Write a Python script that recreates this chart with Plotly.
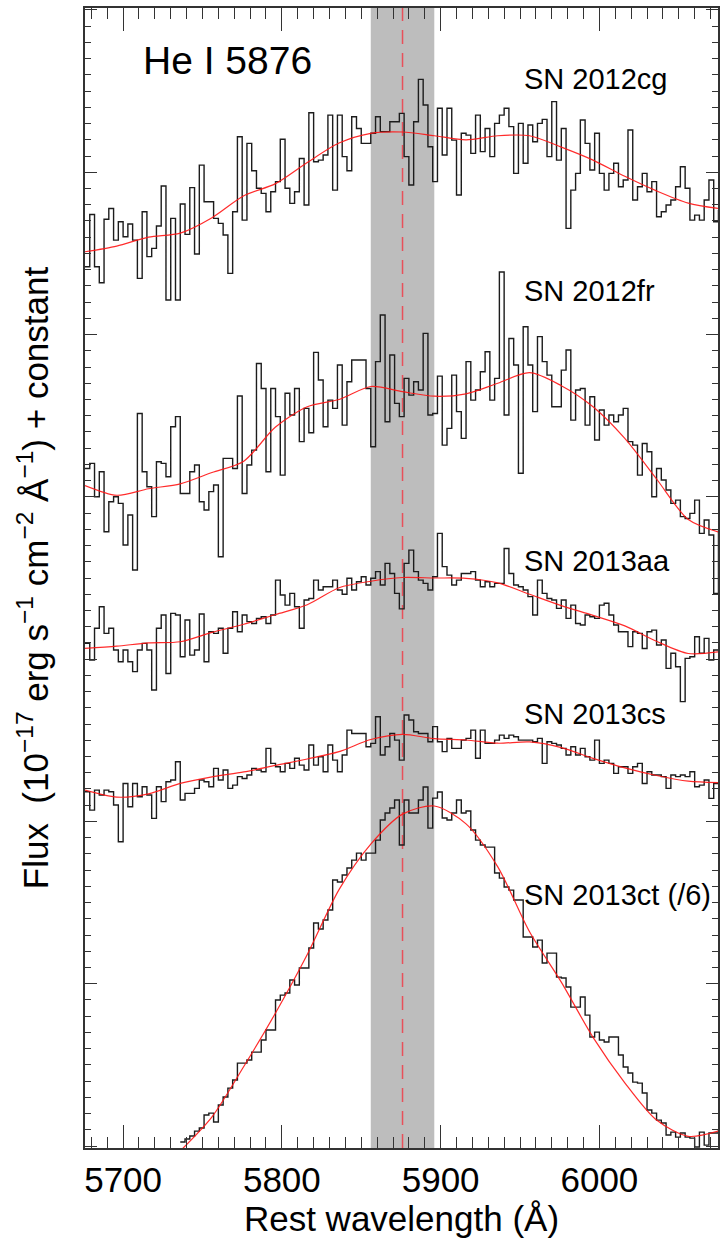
import numpy as np
import plotly.graph_objects as go

# ---------------- data ----------------
# noisy spectra: 3 A bins starting at 5676 A
BIN_START = 5676
BIN_STEP = 3
# smoothed (red) curves sampled every 20 A starting at 5676 A
SMOOTH_START = 5676
SMOOTH_STEP = 20

sn2012cg_flux = [
    5.418, 5.740, 5.418, 5.319, 5.710, 5.777, 5.582, 5.695, 5.603, 5.681,
    5.582, 5.346, 5.757, 5.480, 5.531, 5.669, 5.915, 5.213, 5.716, 5.213,
    5.804, 5.617, 5.905, 5.496, 6.044, 5.818, 5.818, 5.716, 5.685, 5.613,
    5.377, 5.757, 6.219, 5.705, 6.178, 6.009, 5.901, 5.870, 5.757, 5.880,
    5.942, 6.203, 5.901, 5.808, 5.880, 6.085, 5.798, 6.367, 6.065, 6.075,
    6.106, 6.352, 5.890, 6.352, 6.096, 6.009, 6.342, 6.270,
    6.178, 6.178, 6.240, 6.342, 6.250, 6.250, 6.311, 6.311, 6.363, 6.096,
    5.921, 6.311, 6.572, 6.414, 6.157, 5.942, 6.394, 6.106, 6.394, 6.198,
    5.860, 6.240, 6.229, 6.116, 6.352, 6.127, 6.270, 6.096, 6.301, 6.352,
    6.394, 6.281, 5.993, 6.301, 6.055, 6.291, 6.188, 6.301, 6.326, 6.096,
    6.435, 6.075, 6.270, 5.654, 5.890, 5.993, 6.322, 6.178, 6.014, 6.240,
    5.993, 5.890, 5.993, 6.055, 5.911, 5.952, 6.260, 5.829, 5.911, 5.993,
    5.880, 5.942, 5.726, 5.757, 5.798, 5.829, 5.911, 6.034, 5.901, 5.705,
    5.736, 5.705, 5.829, 5.952, 5.695, 5.767,
]
sn2012fr_flux = [
    4.175, 4.206, 4.001, 4.155, 3.785, 3.970, 4.001, 3.960, 3.703, 3.888,
    3.549, 4.514, 4.155, 4.062, 3.878, 4.216, 4.206, 4.124, 4.432, 4.494,
    4.021, 4.021, 4.155, 4.196, 3.970, 3.919, 4.032, 4.073, 3.631, 4.237,
    4.237, 4.175, 4.621, 4.021, 4.196, 4.288, 4.822, 4.668, 4.155, 4.668,
    4.494, 4.134, 4.638, 4.504, 4.668, 4.340, 4.545, 4.395, 4.890, 4.720,
    4.432, 4.596, 4.545, 4.812, 4.442, 4.709, 4.843, 4.843,
    4.843, 4.668, 4.309, 4.833, 5.120, 4.463, 4.874, 4.576, 4.494, 4.730,
    4.627, 4.709, 4.658, 5.007, 4.504, 4.514, 4.744, 4.319, 4.422, 4.750,
    4.525, 4.360, 4.833, 4.596, 4.658, 4.771, 4.894, 4.596, 4.730, 5.385,
    4.504, 4.976, 4.812, 4.145, 5.048, 4.812, 4.525, 4.987, 4.833, 4.750,
    4.555, 4.555, 4.781, 4.905, 4.473, 4.658, 4.668, 4.442, 4.617, 4.350,
    4.535, 4.442, 4.504, 4.463, 4.504, 4.545, 4.340, 4.319, 4.134, 4.329,
    4.278, 4.001, 4.175, 4.104, 4.042, 3.960, 3.980, 3.878, 3.867, 3.898,
    3.980, 3.775, 3.857, 3.765, 3.405, 3.795,
]
sn2013aa_flux = [
    3.097, 2.994, 3.190, 3.323, 3.159, 3.190, 3.056, 2.984, 3.056, 2.984,
    2.923, 3.056, 3.097, 3.056, 2.810, 3.190, 3.272, 2.912, 3.282, 3.272,
    3.015, 3.241, 3.025, 3.056, 3.278, 2.984, 3.169, 3.159, 3.190, 3.036,
    3.190, 3.292, 3.169, 3.272, 3.231, 3.220, 3.251, 3.261, 3.220, 3.272,
    3.487, 3.395, 3.333, 3.405, 3.323, 3.190, 3.364, 3.374, 3.487, 3.426,
    3.446, 3.446, 3.487, 3.426, 3.400, 3.498, 3.426, 3.477,
    3.508, 3.457, 3.498, 3.539, 3.457, 3.590, 3.528, 3.405, 3.310, 3.590,
    3.672, 3.539, 3.487, 3.467, 3.426, 3.508, 3.775, 3.570, 3.518, 3.457,
    3.487, 3.528, 3.528, 3.539, 3.487, 3.446, 3.477, 3.446, 3.467, 3.467,
    3.682, 3.528, 3.457, 3.446, 3.426, 3.385, 3.272, 3.487, 3.405, 3.374,
    3.364, 3.313, 3.364, 3.251, 3.333, 3.220, 3.210, 3.272, 3.261, 3.251,
    3.333, 3.344, 3.272, 3.210, 3.169, 3.169, 3.077, 3.169, 3.159, 3.066,
    3.169, 3.179, 3.087, 3.118, 2.943, 3.036, 2.953, 2.738, 3.005, 3.015,
    3.138, 3.036, 3.128, 2.994, 3.056, 3.056,
]
sn2013cs_flux = [
    2.183, 2.070, 2.193, 2.163, 2.193, 2.183, 2.101, 1.875, 2.234, 2.091,
    2.234, 2.152, 2.214, 2.163, 2.019, 2.214, 2.122, 2.245, 2.255, 2.368,
    2.132, 2.173, 2.173, 2.204, 2.255, 2.245, 2.214, 2.327, 2.255, 2.317,
    2.204, 2.224, 2.276, 2.265, 2.286, 2.327, 2.317, 2.306, 2.450, 2.358,
    2.337, 2.306, 2.358, 2.327, 2.389, 2.347, 2.317, 2.471, 2.347, 2.399,
    2.306, 2.471, 2.378, 2.306, 2.409, 2.563, 2.542, 2.542,
    2.542, 2.460, 2.481, 2.645, 2.409, 2.460, 2.542, 2.501, 2.378, 2.656,
    2.625, 2.553, 2.542, 2.542, 2.491, 2.584, 2.491, 2.430, 2.512, 2.450,
    2.450, 2.501, 2.512, 2.563, 2.389, 2.563, 2.481, 2.481, 2.501, 2.532,
    2.512, 2.532, 2.522, 2.501, 2.501, 2.501, 2.491, 2.512, 2.358, 2.491,
    2.481, 2.471, 2.450, 2.409, 2.460, 2.409, 2.450, 2.399, 2.378, 2.501,
    2.358, 2.378, 2.358, 2.296, 2.337, 2.337, 2.296, 2.337, 2.358, 2.234,
    2.306, 2.286, 2.286, 2.276, 2.204, 2.286, 2.276, 2.286, 2.276, 2.306,
    2.214, 2.224, 2.255, 2.142, 2.234, 2.234,
]
# SN 2013ct (divided by 6): visible from 5736 A on
sn2013ct_start = 5736
sn2013ct_flux = [
    0.025, 0.043, 0.062, 0.092, 0.111, 0.191, 0.203, 0.148, 0.253, 0.302,
    0.357, 0.407, 0.511, 0.511, 0.530, 0.579, 0.579, 0.653, 0.715, 0.715,
    0.900, 0.930, 0.943, 1.023, 0.992, 1.097, 1.097, 1.220, 1.374, 1.337,
    1.393, 1.454, 1.639, 1.627, 1.670, 1.713, 1.762, 1.805, 1.762, 1.805,
    1.805, 1.885, 2.009, 2.052, 2.083, 2.132, 1.855, 2.132, 2.052, 2.052,
    2.132, 2.212, 1.959, 2.144, 2.181, 2.021, 2.009, 2.052, 2.132, 2.052,
    2.064, 1.947, 1.885, 1.855, 1.842, 1.842, 1.682, 1.651, 1.596, 1.577,
    1.516, 1.516, 1.288, 1.288, 1.226, 1.269, 1.128, 1.189, 1.189, 1.041,
    1.035, 0.980, 0.856, 0.856, 0.918, 0.807, 0.672, 0.702, 0.653, 0.641,
    0.672, 0.672, 0.561, 0.487, 0.450, 0.394, 0.388, 0.327, 0.222, 0.203,
    0.160, 0.142, 0.068, 0.086, 0.055, 0.080, 0.055, 0.049, -0.006, 0.086,
    0.006, 0.080, 0.080, 0.099,
]

sn2012cg_smooth = [5.51, 5.545, 5.60, 5.625, 5.72, 5.855, 5.93, 6.06, 6.18, 6.24,
                   6.248, 6.225, 6.20, 6.225, 6.225, 6.155, 6.075, 5.975, 5.885, 5.81, 5.775]
sn2012fr_smooth = [4.07, 4.01, 4.05, 4.08, 4.15, 4.22, 4.43, 4.555, 4.60, 4.68,
                   4.648, 4.62, 4.635, 4.70, 4.765, 4.685, 4.555, 4.36, 4.11, 3.86, 3.78]
sn2013aa_smooth = [3.066, 3.08, 3.10, 3.107, 3.165, 3.215, 3.275, 3.335, 3.44, 3.48,
                   3.503, 3.50, 3.498, 3.47, 3.40, 3.33, 3.27, 3.205, 3.11, 3.035, 3.046]
sn2013cs_smooth = [2.193, 2.15, 2.17, 2.235, 2.275, 2.305, 2.345, 2.385, 2.43, 2.505,
                   2.537, 2.51, 2.502, 2.482, 2.49, 2.455, 2.389, 2.33, 2.283, 2.248, 2.239]
sn2013ct_smooth_start = 5736
sn2013ct_smooth = [-0.03, 0.18, 0.49, 0.82, 1.18, 1.58, 1.86, 2.045, 2.095, 1.985,
                   1.72, 1.32, 1.01, 0.67, 0.39, 0.16, 0.06, 0.095]

labels = ["SN 2012cg", "SN 2012fr", "SN 2013aa", "SN 2013cs", "SN 2013ct (/6)"]
label_y = [6.574, 5.268, 3.604, 2.662, 1.547]
label_x = 5951

line_name = "He I 5876"
line_center = 5876
line_halfwidth = 20

x_ticks = [5700, 5800, 5900, 6000]

# ---------------- figure ----------------
def grid(start, step, n):
    return [start + step * i for i in range(n)]

fig = go.Figure()

series = [
    (BIN_START, sn2012cg_flux, SMOOTH_START, sn2012cg_smooth),
    (BIN_START, sn2012fr_flux, SMOOTH_START, sn2012fr_smooth),
    (BIN_START, sn2013aa_flux, SMOOTH_START, sn2013aa_smooth),
    (BIN_START, sn2013cs_flux, SMOOTH_START, sn2013cs_smooth),
    (sn2013ct_start, sn2013ct_flux, sn2013ct_smooth_start, sn2013ct_smooth),
]

for name, (s0, flux, m0, smooth) in zip(labels, series):
    fig.add_trace(go.Scatter(
        x=grid(s0, BIN_STEP, len(flux)), y=flux, mode="lines",
        line=dict(color="#1c1c1c", width=1.4, shape="hv"),
        name=name, showlegend=False, hoverinfo="skip"))
for name, (s0, flux, m0, smooth) in zip(labels, series):
    fig.add_trace(go.Scatter(
        x=grid(m0, SMOOTH_STEP, len(smooth)), y=smooth, mode="lines",
        line=dict(color="rgba(255,20,20,0.9)", width=1.2, shape="spline", smoothing=0.8),
        name=name + " smoothed", showlegend=False, hoverinfo="skip"))

fig.add_shape(type="rect", xref="x", yref="paper",
              x0=line_center - line_halfwidth, x1=line_center + line_halfwidth,
              y0=0, y1=1, fillcolor="#bdbdbd", line=dict(width=0), layer="below")
fig.add_shape(type="line", xref="x", yref="paper",
              x0=line_center, x1=line_center, y0=0, y1=1,
              line=dict(color="#e8505a", width=1.5, dash="14px,9px"), layer="below")

FONT = "Liberation Sans, Arial, Helvetica, sans-serif"

fig.add_annotation(x=5711, y=6.69, text=line_name, showarrow=False,
                   xanchor="left", yanchor="middle",
                   font=dict(family=FONT, size=39, color="black"))
for t, yy in zip(labels, label_y):
    fig.add_annotation(x=label_x, y=yy, text=t, showarrow=False,
                       xanchor="left", yanchor="middle",
                       font=dict(family=FONT, size=29, color="black"))

axis_common = dict(showline=True, linecolor="#333333", linewidth=1.5, mirror="ticks",
                   ticks="inside", tickcolor="#333333", showgrid=False, zeroline=False)

fig.update_xaxes(range=[5676, 6074.7], tickvals=x_ticks, ticklen=23, tickwidth=1.3,
                 minor=dict(ticks="inside", dtick=10, tick0=5700, ticklen=11,
                            tickwidth=1.1, tickcolor="#333333", showgrid=False),
                 tickfont=dict(family=FONT, size=35, color="black"),
                 title=dict(text="Rest wavelength (Å)", standoff=6,
                            font=dict(family=FONT, size=35, color="black")),
                 **axis_common)
fig.update_yaxes(range=[-0.012, 7.012], dtick=1, tick0=0, ticklen=12, tickwidth=1.3,
                 showticklabels=False,
                 minor=dict(ticks="inside", dtick=0.1, tick0=0, ticklen=6,
                            tickwidth=1.1, tickcolor="#333333", showgrid=False),
                 title=dict(text="Flux  (10<sup>−17</sup> erg s<sup>−1</sup> cm<sup>−2</sup> Å<sup>−1</sup>) + constant",
                            standoff=24, font=dict(family=FONT, size=35, color="black")),
                 **axis_common)

fig.update_layout(width=720, height=1243, margin=dict(l=85, r=2, t=8, b=95, autoexpand=False),
                  paper_bgcolor="white", plot_bgcolor="white", showlegend=False)

fig.write_html("out.html")
